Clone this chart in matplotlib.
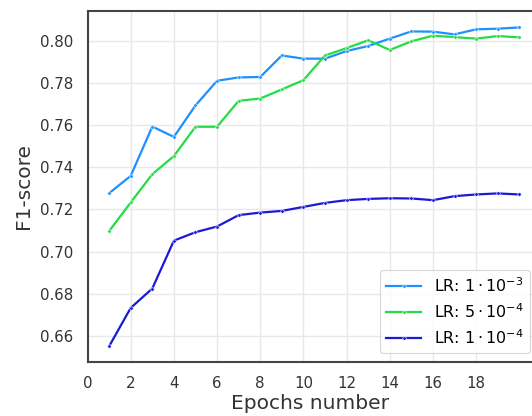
import matplotlib.pyplot as plt
import numpy as np

# Data
epochs = np.arange(1, 21)
f1_lr_1e3 = [0.7277, 0.7359, 0.7593, 0.7544, 0.7693, 0.7810, 0.7826, 0.7828, 0.7930, 0.7915,
             0.7915, 0.7951, 0.7975, 0.8010, 0.8044, 0.8043, 0.8030, 0.8054, 0.8057, 0.8063]
f1_lr_5e4 = [0.7097, 0.7233, 0.7367, 0.7453, 0.7592, 0.7592, 0.7715, 0.7726, 0.7769, 0.7813,
             0.7930, 0.7965, 0.8002, 0.7956, 0.7997, 0.8024, 0.8017, 0.8010, 0.8022, 0.8016]
f1_lr_1e4 = [0.6551, 0.6733, 0.6825, 0.7052, 0.7092, 0.7119, 0.7173, 0.7185, 0.7193, 0.7212,
             0.7231, 0.7244, 0.7250, 0.7253, 0.7252, 0.7244, 0.7263, 0.7271, 0.7276, 0.7271]
labels = [r"LR: $1 \cdot 10^{-3}$", r"LR: $5 \cdot 10^{-4}$", r"LR: $1 \cdot 10^{-4}$"]
line_colors = ["#1e90ff", "#22dd44", "#1a1ad6"]
xticks = np.arange(0, 20, 2)
yticks = np.arange(0.66, 0.81, 0.02)

# Plot
fig = plt.figure(figsize=(5.32, 4.16), dpi=100)
ax = fig.add_axes([0.1645, 0.130, 0.838, 0.8436])

for vals, lab, col in zip([f1_lr_1e3, f1_lr_5e4, f1_lr_1e4], labels, line_colors):
    ax.plot(epochs, vals, color=col, label=lab, linewidth=1.6, marker=".",
            markersize=5, markeredgecolor="white", markeredgewidth=0.4, zorder=3)

ax.set_xlim(0, 20.65)
ax.set_ylim(0.6477, 0.8141)
ax.set_xticks(xticks)
ax.set_yticks(yticks)
ax.set_yticklabels([f"{v:.2f}" for v in yticks])
ax.grid(True, color="#e8e8e8", linewidth=1, zorder=0)
ax.set_axisbelow(True)

for s in ax.spines.values():
    s.set_color("#444444")
    s.set_linewidth(1.5)
ax.tick_params(axis="both", length=0, labelsize=10.8, colors="#333333", pad=10)
ax.set_xlabel("Epochs number", fontsize=14.5, color="#333333", labelpad=2)
ax.set_ylabel("F1-score", fontsize=14.5, color="#333333", labelpad=5)

leg = ax.legend(loc="lower right", fontsize=11.4, handlelength=2.2, frameon=True,
                borderaxespad=0, labelspacing=0.45, bbox_to_anchor=(0.9926, 0.0256))
leg.get_frame().set_edgecolor("#cccccc")
leg.get_frame().set_linewidth(0.8)

plt.savefig("out.png", dpi=100)
